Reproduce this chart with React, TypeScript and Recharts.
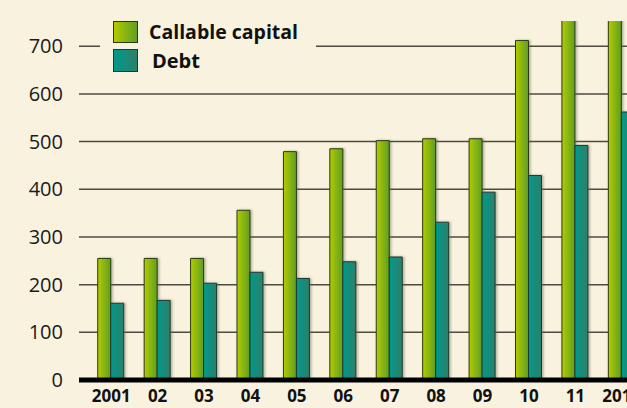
import { BarChart, Bar, XAxis, YAxis, CartesianGrid, Legend } from 'recharts';

const years = ['2001', '02', '03', '04', '05', '06', '07', '08', '09', '10', '11', '2012'];
const callableCapital = [255, 255, 255, 356, 479, 485, 502, 506, 506, 712, 790, 800];
const debt = [161, 167, 203, 226, 213, 248, 258, 331, 394, 429, 492, 562];
const yTicks = [0, 100, 200, 300, 400, 500, 600, 700];

const data = years.map((year, i) => ({
    year,
    callable: callableCapital[i],
    debt: debt[i],
}));

const BG = '#F8F2DE';
const FONT = '"Open Sans", "DejaVu Sans", sans-serif';

const LegendBox = () => (
    <div style={{ background: BG, width: 216, height: 64, fontFamily: FONT, paddingLeft: 13, paddingTop: 7, boxSizing: 'border-box' }}>
        <div style={{ display: 'flex', alignItems: 'center', height: 21 }}>
            <span style={{ width: 23, height: 20, border: '1px solid #2b3a12', background: 'linear-gradient(to right, #B2CA00, #5F9F25)', display: 'inline-block', flexShrink: 0 }} />
            <span style={{ marginLeft: 11, fontWeight: 700, fontSize: 19.5, color: '#111', whiteSpace: 'nowrap' }}>Callable capital</span>
        </div>
        <div style={{ display: 'flex', alignItems: 'center', height: 22, marginTop: 7 }}>
            <span style={{ width: 23, height: 21, border: '1px solid #1c3a30', background: 'linear-gradient(to right, #00998C, #2F8069)', display: 'inline-block', flexShrink: 0 }} />
            <span style={{ marginLeft: 14, fontWeight: 700, fontSize: 20, color: '#111' }}>Debt</span>
        </div>
    </div>
);

export default function App() {
    return (
        <div style={{ position: 'absolute', left: 0, top: 0, width: 627, height: 408, overflow: 'hidden', background: BG }}>
            <BarChart
                width={660}
                height={408}
                data={data}
                margin={{ top: 21, right: 0, bottom: 0, left: 0 }}
                barCategoryGap="21%"
                barGap={0}
            >
                <defs>
                    <linearGradient id="gCallable" x1="0" y1="0" x2="1" y2="0">
                        <stop offset="0%" stopColor="#B3CB00" />
                        <stop offset="100%" stopColor="#5E9E25" />
                    </linearGradient>
                    <linearGradient id="gDebt" x1="0" y1="0" x2="1" y2="0">
                        <stop offset="0%" stopColor="#00998C" />
                        <stop offset="100%" stopColor="#2E7F69" />
                    </linearGradient>
                    <filter id="shadow" x="-20%" y="-5%" width="150%" height="110%">
                        <feDropShadow dx="1.5" dy="0" stdDeviation="1" floodColor="#6b6650" floodOpacity="0.5" />
                    </filter>
                </defs>
                <CartesianGrid
                    vertical={false}
                    horizontalValues={yTicks.slice(1)}
                    stroke="#4d4a40"
                    strokeWidth={1.5}
                />
                <XAxis
                    dataKey="year"
                    height={28}
                    padding={{ left: 9, right: 15 }}
                    axisLine={{ stroke: '#000', strokeWidth: 5 }}
                    tickLine={false}
                    tickSize={0}
                    tickMargin={10}
                    interval={0}
                    tick={{ fill: '#111', fontSize: 17, fontWeight: 700, fontFamily: FONT }}
                />
                <YAxis
                    width={79}
                    domain={[0, 753]}
                    allowDataOverflow
                    ticks={yTicks}
                    axisLine={false}
                    tickLine={false}
                    tickSize={0}
                    tickMargin={16}
                    tick={{ fill: '#1a1a1a', fontSize: 20, fontFamily: FONT }}
                />
                <Legend
                    layout="vertical"
                    align="center"
                    verticalAlign="middle"
                    content={<LegendBox />}
                    wrapperStyle={{ position: 'absolute', left: 100, top: 14, width: 216, height: 64 }}
                />
                <Bar
                    dataKey="callable"
                    name="Callable capital"
                    fill="url(#gCallable)"
                    stroke="#2b3a12"
                    strokeWidth={1}
                    filter="url(#shadow)"
                    isAnimationActive={false}
                />
                <Bar
                    dataKey="debt"
                    name="Debt"
                    fill="url(#gDebt)"
                    stroke="#1c3a30"
                    strokeWidth={1}
                    filter="url(#shadow)"
                    isAnimationActive={false}
                />
            </BarChart>
        </div>
    );
}
